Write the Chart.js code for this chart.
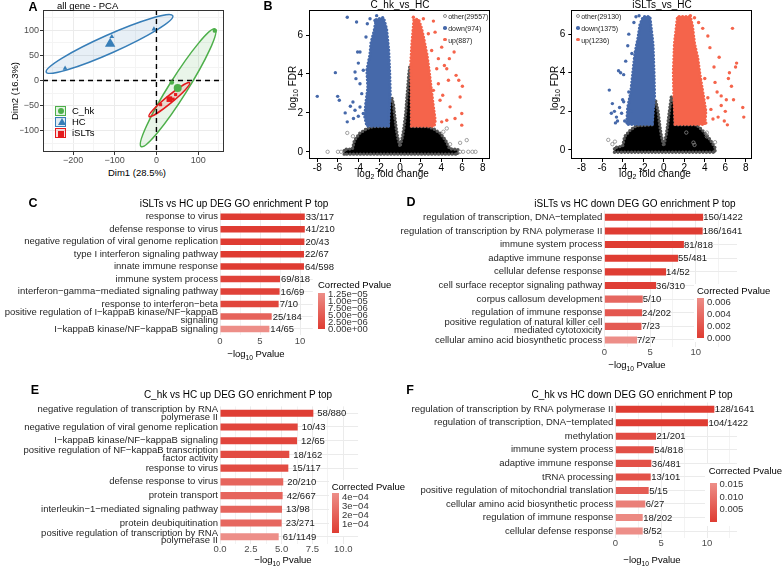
<!DOCTYPE html>
<html>
<head>
<meta charset="utf-8">
<title>PCA, volcano and GO enrichment</title>
<script src="https://cdn.jsdelivr.net/npm/chart.js@4.4.1/dist/chart.umd.min.js"></script>
<style>
  body { margin: 0; width: 784px; height: 566px; position: relative; overflow: hidden; background: #fff;
         font-family: "Liberation Sans", Arial, sans-serif; color: #000; }
  canvas { position: absolute; }
  .tx { position: absolute; white-space: nowrap; line-height: 1; z-index: 5; }
  .tx sub { font-size: 0.7em; vertical-align: -0.35em; line-height: 0; }
  .box { position: absolute; z-index: 4; }
</style>
</head>
<body>
<script>
var FONT = '"Liberation Sans", Arial, sans-serif';

// ---------- A: all gene PCA ----------
var pcaGroups = ['C_hk', 'HC', 'iSLTs'];
var pcaColors = ['#4DAF4A', '#377EB8', '#E41A1C'];
var pcaStyles = ['circle', 'triangle', 'rect'];
var chkDim1 = [37, 140], chkDim2 = [-4, 99];
var hcDim1 = [-219, -107, -6], hcDim2 = [24, 87, 102];
var islDim1 = [10, 40, 46], islDim2 = [-48, -37, -28];
var meanDim1 = [51, -111, 31], meanDim2 = [-15, 73, -37];
// confidence ellipses: centre, half major axis, half minor axis (data units)
var ellCx = [52, -112.5, 31], ellCy = [-14.5, 72.5, -38];
var ellAx = [88.7, 151.7, 48.8], ellAy = [116.7, 56, 33.4];
var ellBx = [18.6, 9, 5.5], ellBy = [-9.5, -16.4, -5.4];
var pcaXTicks = [-250, -200, -150, -100, -50, 0, 50, 100, 150];
var pcaXLabels = ['', '−200', '', '−100', '', '0', '', '100', ''];
var pcaYTicks = [-125, -100, -75, -50, -25, 0, 25, 50, 75, 100, 125];
var pcaYLabels = ['', '−100', '', '−50', '', '0', '', '50', '', '100', ''];

// ---------- B: volcano plots ----------
var volXTicks = [-8, -6, -4, -2, 0, 2, 4, 6, 8];
var volXLabels = ['-8', '-6', '-4', '-2', '0', '2', '4', '6', '8'];
var volYTicks = [0, 2, 4, 6];
var volYLabels = ['0', '2', '4', '6'];
var downColor = '#4669AA', upColor = '#F5644B', otherColor = '#000';

// C_hk vs HC: dense clouds as outlines, sparse points one by one
var chkOtherPolyX = [-5.4, -5.4, -4.6, -4.4, -3.9, -3.2, -2.6, -1.15, -1.1, -0.8, -0.62, -0.55, -0.39, -0.25, 0, 0.25, 0.39, 0.55, 0.7, 0.85, 0.95, 1.1, 1.1, 2.6, 3.2, 3.9, 4.4, 4.8, 5.6, 5.6];
var chkOtherPolyY = [-0.12, 0.12, 0.15, 0.6, 0.95, 1.2, 1.3, 1.3, 2.5, 2.8, 2.4, 2.0, 1.29, 0.8, 0.26, 0.8, 1.29, 2.0, 3.0, 4.0, 4.4, 3.6, 1.3, 1.3, 1.2, 0.95, 0.6, 0.15, 0.12, -0.12];
var chkDownPolyX = [-1.12, -3.2, -3.4, -3.3, -3.1, -3.2, -2.9, -2.8, -2.5, -2.3, -1.6, -1.3, -1.1, -1.0, -0.95];
var chkDownPolyY = [1.33, 1.33, 1.8, 2.5, 3.3, 4.2, 5.0, 5.6, 6.2, 6.8, 6.9, 6.3, 5.2, 4.0, 2.9];
var chkUpPolyX = [1.12, 3.3, 3.4, 3.2, 3.0, 2.8, 2.6, 2.3, 2.1, 1.8, 1.35, 1.15, 1.05, 1.1];
var chkUpPolyY = [1.33, 1.33, 1.6, 2.4, 3.3, 4.2, 5.0, 5.8, 6.3, 6.8, 6.8, 5.5, 4.6, 2.0];
var chkOtherX = [-7.0, -6.0, -5.7, -5.1, -4.55, 5.81, 6.45, 4.84, 5.8, 6.1, 6.6, 7.0, 7.3, 4.19, 4.52];
var chkOtherY = [0, 0, 0, 0.97, 0.8, 0.46, 0.6, 0.39, 0, 0, 0, 0, 0, 1.03, 1.2];
var chkDownX = [-8.0, -6.25, -6.03, -5.87, -5.1, -4.2, -5.3, -4.8, -4.55, -5.1, -4.5, -4.35, -4.26, -4.1, -3.87, -4.03, -3.87, -3.55, -3.7, -3.29, -3.16, -2.9, -2.42, -2.26, -4.35, -4.03, -3.55, -3.87];
var chkDownY = [2.85, 4.07, 2.85, 2.65, 6.92, 6.67, 2.0, 2.34, 2.56, 1.54, 1.71, 4.1, 3.76, 5.13, 5.13, 4.56, 3.5, 4.19, 2.99, 5.9, 6.58, 6.84, 6.75, 7.0, 2.14, 1.83, 1.97, 2.3];
var chkUpX = [1.29, 2.26, 3.23, 2.74, 3.39, 4.03, 5.23, 4.77, 4.29, 4.52, 5.68, 5.42, 4.68, 6.03, 5.81, 5.97, 5.97, 5.32, 4.13, 3.87, 4.84, 4.52, 3.71, 3.55, 3.06, 3.71, 3.23, 4.03, 3.23];
var chkUpY = [6.92, 6.84, 6.72, 6.07, 6.15, 5.38, 5.13, 4.79, 4.44, 4.27, 3.68, 3.93, 3.68, 3.37, 2.82, 1.97, 1.37, 1.71, 2.91, 2.65, 2.31, 1.62, 3.5, 4.27, 5.21, 4.79, 3.16, 1.54, 1.97];

// iSLTs vs HC
var islOtherPolyX = [-4.8, -4.8, -4.0, -3.8, -3.3, -2.7, -1.15, -1.1, -0.8, -0.55, -0.39, -0.25, 0, 0.25, 0.39, 0.55, 0.75, 1.05, 1.1, 3.2, 3.8, 4.3, 4.8, 5.0, 5.0];
var islOtherPolyY = [-0.12, 0.12, 0.2, 0.7, 1.0, 1.25, 1.3, 2.3, 2.6, 2.0, 1.29, 0.8, 0.2, 0.8, 1.29, 2.0, 2.8, 2.4, 1.3, 1.3, 1.0, 0.7, 0.3, 0.12, -0.12];
var islDownPolyX = [-1.12, -3.6, -3.5, -3.2, -3.0, -2.8, -2.5, -2.3, -2.0, -1.35, -1.05, -0.95, -0.9];
var islDownPolyY = [1.33, 1.33, 2.2, 3.0, 4.0, 5.0, 5.8, 6.5, 6.9, 6.9, 5.5, 4.0, 2.8];
var islUpPolyX = [1.12, 4.0, 4.1, 3.8, 3.5, 3.3, 3.0, 2.8, 2.6, 1.35, 1.05, 0.95, 1.0];
var islUpPolyY = [1.33, 1.33, 2.0, 3.0, 4.0, 4.8, 5.5, 6.4, 6.9, 6.9, 5.5, 4.0, 2.7];
var islOtherX = [-5.4, -4.75, 4.2, 4.2, 2.9, 3.0, 2.2, -5.0, 5.0];
var islOtherY = [0.52, 0.43, 0.9, 0.7, 0.38, 0.26, 0.9, 0.3, 0.4];
var islDownX = [-5.3, -5.0, -4.8, -4.6, -4.3, -4.5, -4.1, -4.0, -4.4, -4.2, -3.9, -3.5, -3.4, -3.7, -2.9, -2.7, -2.4, -3.1, -3.4, -3.9, -3.2, -3.8, -4.7, -5.1];
var islDownY = [3.1, 2.4, 2.0, 1.7, 2.2, 1.5, 1.9, 2.6, 4.1, 4.0, 3.9, 5.4, 6.0, 4.6, 6.6, 6.9, 6.95, 5.0, 3.0, 2.5, 2.0, 1.5, 1.4, 1.9];
var islUpX = [7.7, 7.8, 7.1, 6.6, 6.4, 6.3, 6.0, 6.1, 5.6, 5.9, 5.6, 5.2, 5.0, 4.9, 5.4, 4.5, 4.3, 3.8, 3.4, 3.0, 2.6, 4.6, 4.8, 4.3, 4.0, 4.1, 5.3, 6.8, 6.2, 7.0, 6.7];
var islUpY = [2.2, 1.7, 4.5, 3.3, 4.0, 3.7, 2.0, 2.6, 2.8, 1.5, 2.3, 3.0, 3.5, 4.3, 4.8, 5.3, 5.9, 6.3, 6.6, 6.85, 6.95, 2.1, 1.6, 2.7, 3.7, 1.4, 1.7, 2.6, 1.3, 4.3, 6.3];

// ---------- C-F: GO enrichment ----------
var lowFill = [223, 60, 50], highFill = [237, 142, 136];

var cTerms = ['response to virus', 'defense response to virus', 'negative regulation of viral genome replication',
  'type I interferon signaling pathway', 'innate immune response', 'immune system process',
  'interferon−gamma−mediated signaling pathway', 'response to interferon−beta',
  ['positive regulation of I−kappaB kinase/NF−kappaB', 'signaling'], 'I−kappaB kinase/NF−kappaB signaling'];
var cLogP = [10.6, 10.6, 10.55, 10.5, 10.5, 7.5, 7.45, 7.33, 6.46, 6.17];
var cCounts = ['33/117', '41/210', '20/43', '22/67', '64/598', '69/818', '16/69', '7/10', '25/184', '14/65'];
var cPadj = [1e-8, 1e-8, 1e-8, 1e-8, 1e-8, 1e-6, 1e-6, 1.5e-6, 6e-6, 1.27e-5];
var cLim = [0, 1.27e-5];
var cBarTicks = [1.25e-5, 1e-5, 7.5e-6, 5e-6, 2.5e-6, 0];
var cBarLabels = ['1.25e−05', '1.00e−05', '7.50e−06', '5.00e−06', '2.50e−06', '0.00e+00'];

var dTerms = ['regulation of transcription, DNA−templated', 'regulation of transcription by RNA polymerase II',
  'immune system process', 'adaptive immune response', 'cellular defense response',
  'cell surface receptor signaling pathway', 'corpus callosum development', 'regulation of immune response',
  ['positive regulation of natural killer cell', 'mediated cytotoxicity'], 'cellular amino acid biosynthetic process'];
var dLogP = [10.8, 10.75, 8.7, 8.06, 6.75, 5.66, 4.2, 4.13, 4.06, 3.58];
var dCounts = ['150/1422', '186/1641', '81/818', '55/481', '14/52', '36/310', '5/10', '24/202', '7/23', '7/27'];
var dPadj = [1e-7, 1e-7, 2e-6, 5e-6, 6e-5, 2e-4, 0.0035, 0.0022, 0.0025, 0.0066];
var dLim = [0, 0.0066];
var dBarTicks = [0.006, 0.004, 0.002, 0];
var dBarLabels = ['0.006', '0.004', '0.002', '0.000'];

var eTerms = [['negative regulation of transcription by RNA', 'polymerase II'], 'negative regulation of viral genome replication',
  'I−kappaB kinase/NF−kappaB signaling', ['positive regulation of NF−kappaB transcription', 'factor activity'],
  'response to virus', 'defense response to virus', 'protein transport', 'interleukin−1−mediated signaling pathway',
  'protein deubiquitination', ['positive regulation of transcription by RNA', 'polymerase II']];
var eLogP = [7.57, 6.3, 6.25, 5.62, 5.54, 5.13, 5.08, 5.03, 5.0, 4.76];
var eCounts = ['58/880', '10/43', '12/65', '18/162', '15/117', '20/210', '42/667', '13/98', '23/271', '61/1149'];
var ePadj = [1e-5, 5e-5, 5e-5, 8e-5, 8e-5, 2.2e-4, 2.2e-4, 2.2e-4, 2.3e-4, 4.43e-4];
var eLim = [0, 4.43e-4];
var eBarTicks = [4e-4, 3e-4, 2e-4, 1e-4];
var eBarLabels = ['4e−04', '3e−04', '2e−04', '1e−04'];

var fTerms = ['regulation of transcription by RNA polymerase II', 'regulation of transcription, DNA−templated',
  'methylation', 'immune system process', 'adaptive immune response', 'tRNA processing',
  'positive regulation of mitochondrial translation', 'cellular amino acid biosynthetic process',
  'regulation of immune response', 'cellular defense response'];
var fLogP = [10.8, 10.1, 4.44, 4.18, 3.93, 3.86, 3.64, 3.27, 2.99, 2.99];
var fCounts = ['128/1641', '104/1422', '21/201', '54/818', '36/481', '13/101', '5/15', '6/27', '18/202', '8/52'];
var fPadj = [1e-7, 1e-7, 0.003, 0.0035, 0.004, 0.004, 0.006, 0.0125, 0.0143, 0.0153];
var fLim = [0, 0.0153];
var fBarTicks = [0.015, 0.010, 0.005];
var fBarLabels = ['0.015', '0.010', '0.005'];

var goTicks5 = [0, 2.5, 5, 7.5, 10, 12.5];
var goLabels5 = ['0', '', '5', '', '10', ''];
var goTicksE = [0, 1.25, 2.5, 3.75, 5, 6.25, 7.5, 8.75, 10];
var goLabelsE = ['0.0', '', '2.5', '', '5.0', '', '7.5', '', '10.0'];

// ---------- helpers ----------
function pts(xs, ys) { return xs.map(function (x, i) { return { x: x, y: ys[i] }; }); }

function hexA(hex, a) {
  var n = parseInt(hex.slice(1), 16);
  return 'rgba(' + (n >> 16) + ',' + ((n >> 8) & 255) + ',' + (n & 255) + ',' + a + ')';
}

function padjFill(p, lim) {
  var t = Math.min(1, Math.max(0, (p - lim[0]) / (lim[1] - lim[0])));
  return 'rgb(' + lowFill.map(function (c, k) { return Math.round(c + (highFill[k] - c) * t); }).join(',') + ')';
}

function mk(l, t, w, h) {
  var cv = document.createElement('canvas');
  cv.width = w; cv.height = h;
  cv.style.left = l + 'px'; cv.style.top = t + 'px';
  cv.style.width = w + 'px'; cv.style.height = h + 'px';
  document.body.appendChild(cv);
  return cv;
}

function put(html, x, y, size, anchor, extra) {
  var d = document.createElement('div');
  d.className = 'tx';
  d.innerHTML = html;
  var tx = anchor === 'c' ? '-50%' : anchor === 'r' ? '-100%' : '0';
  d.style.left = x + 'px';
  d.style.top = y + 'px';
  d.style.fontSize = size + 'px';
  d.style.transform = 'translate(' + tx + ',-50%)' + (extra && extra.rot ? ' rotate(-90deg)' : '');
  if (extra && extra.bold) d.style.fontWeight = 'bold';
  if (extra && extra.color) d.style.color = extra.color;
  document.body.appendChild(d);
  return d;
}

function rect(l, t, w, h, css) {
  var d = document.createElement('div');
  d.className = 'box';
  d.style.cssText = 'left:' + l + 'px;top:' + t + 'px;width:' + w + 'px;height:' + h + 'px;' + (css || '');
  document.body.appendChild(d);
  return d;
}

function frame(color, w) {
  return {
    id: 'frame',
    afterDraw: function (chart) {
      var a = chart.chartArea, ctx = chart.ctx;
      ctx.save();
      ctx.strokeStyle = color; ctx.lineWidth = w;
      ctx.strokeRect(Math.round(a.left) + 0.5, Math.round(a.top) + 0.5,
        Math.round(a.right - a.left) - 1, Math.round(a.bottom - a.top) - 1);
      ctx.restore();
    }
  };
}

// dense point clouds: filled outline with a dotted rim so the edge reads as points
function polyLayer(polys) {
  return {
    id: 'polys',
    beforeDatasetsDraw: function (chart) {
      var ctx = chart.ctx, sx = chart.scales.x, sy = chart.scales.y, a = chart.chartArea;
      ctx.save();
      ctx.beginPath(); ctx.rect(a.left, a.top, a.right - a.left, a.bottom - a.top); ctx.clip();
      polys.forEach(function (p) {
        ctx.beginPath();
        p.xs.forEach(function (x, i) {
          var px = sx.getPixelForValue(x), py = sy.getPixelForValue(p.ys[i]);
          if (i) ctx.lineTo(px, py); else ctx.moveTo(px, py);
        });
        ctx.closePath();
        ctx.fillStyle = p.color; ctx.fill();
        ctx.setLineDash([]); ctx.lineJoin = 'round'; ctx.lineWidth = 1; ctx.strokeStyle = p.color; ctx.stroke();
        ctx.setLineDash([0, 3.4]); ctx.lineCap = 'round'; ctx.lineWidth = 3.4; ctx.strokeStyle = p.rim; ctx.stroke();
      });
      ctx.restore();
    }
  };
}

var ellipseLayer = {
  id: 'ellipses',
  beforeDatasetsDraw: function (chart) {
    var ctx = chart.ctx, sx = chart.scales.x, sy = chart.scales.y, a = chart.chartArea;
    ctx.save();
    ctx.beginPath(); ctx.rect(a.left, a.top, a.right - a.left, a.bottom - a.top); ctx.clip();
    ellCx.forEach(function (cx, i) {
      var cy = ellCy[i];
      var px = sx.getPixelForValue(cx), py = sy.getPixelForValue(cy);
      var ax = sx.getPixelForValue(cx + ellAx[i]) - px, ay = sy.getPixelForValue(cy + ellAy[i]) - py;
      var bx = sx.getPixelForValue(cx + ellBx[i]) - px, by = sy.getPixelForValue(cy + ellBy[i]) - py;
      ctx.save();
      ctx.transform(ax, ay, bx, by, px, py);
      ctx.beginPath(); ctx.arc(0, 0, 1, 0, Math.PI * 2);
      ctx.restore();
      ctx.fillStyle = hexA(pcaColors[i], 0.12); ctx.fill();
      ctx.strokeStyle = pcaColors[i]; ctx.lineWidth = 1.5; ctx.stroke();
    });
    // dashed lines through the origin
    ctx.setLineDash([5, 4]); ctx.lineWidth = 1.4; ctx.strokeStyle = '#000';
    var x0 = sx.getPixelForValue(0), y0 = sy.getPixelForValue(0);
    ctx.beginPath(); ctx.moveTo(x0, a.top); ctx.lineTo(x0, a.bottom); ctx.stroke();
    ctx.beginPath(); ctx.moveTo(a.left, y0); ctx.lineTo(a.right, y0); ctx.stroke();
    ctx.restore();
  }
};

function countLabels(counts, off) {
  return {
    id: 'counts',
    afterDatasetsDraw: function (chart) {
      var ctx = chart.ctx;
      ctx.save();
      ctx.font = '9.5px ' + FONT; ctx.fillStyle = '#1A1A1A';
      ctx.textBaseline = 'middle'; ctx.textAlign = 'left';
      chart.getDatasetMeta(0).data.forEach(function (bar, i) { ctx.fillText(counts[i], bar.x + off, bar.y + 0.5); });
      ctx.restore();
    }
  };
}

function minorGrid(ticks, labels, major, minor) {
  return function (c) {
    if (!c.tick) return major;
    return labels[ticks.indexOf(c.tick.value)] === '' ? minor : major;
  };
}

// ---------- A ----------
new Chart(mk(20, 0, 212, 166), {
  type: 'scatter',
  data: {
    datasets: [
      { data: pts(chkDim1, chkDim2), pointStyle: 'circle', pointRadius: 2.2, borderWidth: 0, backgroundColor: pcaColors[0] },
      { data: pts(hcDim1, hcDim2), pointStyle: 'triangle', pointRadius: 2.8, borderWidth: 0, backgroundColor: pcaColors[1] },
      { data: pts(islDim1, islDim2), pointStyle: 'rect', pointRadius: 2.2, borderWidth: 0, backgroundColor: pcaColors[2] },
      { data: pts(meanDim1, meanDim2), pointStyle: pcaStyles, pointRadius: [4, 6, 4], borderWidth: 0, backgroundColor: pcaColors }
    ]
  },
  options: {
    responsive: false, animation: false, events: [],
    layout: { padding: { top: 10, right: 8 } },
    plugins: { legend: { display: false }, tooltip: { enabled: false } },
    scales: {
      x: {
        type: 'linear', min: -272, max: 162,
        afterBuildTicks: function (s) { s.ticks = pcaXTicks.map(function (v) { return { value: v }; }); },
        afterFit: function (s) { s.height = 14; },
        grid: { color: minorGrid(pcaXTicks, pcaXLabels, '#EBEBEB', '#F4F4F4'), tickLength: 3,
                tickColor: minorGrid(pcaXTicks, pcaXLabels, '#333', 'rgba(0,0,0,0)') },
        border: { display: false },
        ticks: { padding: 0, color: '#4D4D4D', font: { family: FONT, size: 9 }, maxRotation: 0, autoSkip: false,
                 callback: function (v) { return pcaXLabels[pcaXTicks.indexOf(v)]; } }
      },
      y: {
        type: 'linear', min: -142, max: 140,
        afterBuildTicks: function (s) { s.ticks = pcaYTicks.map(function (v) { return { value: v }; }); },
        afterFit: function (s) { s.width = 23; },
        grid: { color: minorGrid(pcaYTicks, pcaYLabels, '#EBEBEB', '#F4F4F4'), tickLength: 3,
                tickColor: minorGrid(pcaYTicks, pcaYLabels, '#333', 'rgba(0,0,0,0)') },
        border: { display: false },
        ticks: { padding: 1, color: '#4D4D4D', font: { family: FONT, size: 9 }, autoSkip: false,
                 callback: function (v) { return pcaYLabels[pcaYTicks.indexOf(v)]; } }
      }
    }
  },
  plugins: [ellipseLayer, frame('#333', 1)]
});

// ---------- B ----------
function volcano(cv, v) {
  return new Chart(cv, {
    type: 'scatter',
    data: {
      datasets: [
        { data: pts(v.otherX, v.otherY), pointRadius: 1.7, borderWidth: 0.8, borderColor: '#8A8A8A', backgroundColor: 'rgba(0,0,0,0)' },
        { data: pts(v.downX, v.downY), pointRadius: 1.7, borderWidth: 0, backgroundColor: downColor },
        { data: pts(v.upX, v.upY), pointRadius: 1.7, borderWidth: 0, backgroundColor: upColor }
      ]
    },
    options: {
      responsive: false, animation: false, events: [],
      layout: { padding: { top: 10, right: 32 } },
      plugins: { legend: { display: false }, tooltip: { enabled: false } },
      scales: {
        x: {
          type: 'linear', min: v.xMin, max: v.xMax,
          afterBuildTicks: function (s) { s.ticks = volXTicks.map(function (t) { return { value: t }; }); },
          afterFit: function (s) { s.height = 13; },
          grid: { drawOnChartArea: false, tickLength: 3, tickColor: '#000' },
          border: { display: false },
          ticks: { padding: 0, color: '#000', font: { family: FONT, size: 10 }, maxRotation: 0, autoSkip: false,
                   callback: function (t) { return volXLabels[volXTicks.indexOf(t)]; } }
        },
        y: {
          type: 'linear', min: v.yMin, max: v.yMax,
          afterBuildTicks: function (s) { s.ticks = volYTicks.map(function (t) { return { value: t }; }); },
          afterFit: function (s) { s.width = v.yw; },
          grid: { drawOnChartArea: false, tickLength: 3, tickColor: '#000' },
          border: { display: false },
          ticks: { padding: 3, color: '#000', font: { family: FONT, size: 10 }, autoSkip: false,
                   callback: function (t) { return volYLabels[volYTicks.indexOf(t)]; } }
        }
      }
    },
    plugins: [polyLayer([
      { xs: v.otherPolyX, ys: v.otherPolyY, color: otherColor, rim: '#555' },
      { xs: v.downPolyX, ys: v.downPolyY, color: downColor, rim: downColor },
      { xs: v.upPolyX, ys: v.upPolyY, color: upColor, rim: upColor }
    ]), frame('#000', 1)]
  });
}

volcano(mk(282, 0, 240, 172), {
  xMin: -8.8, xMax: 8.7, yMin: -0.37, yMax: 7.29, yw: 27,
  otherPolyX: chkOtherPolyX, otherPolyY: chkOtherPolyY, downPolyX: chkDownPolyX, downPolyY: chkDownPolyY,
  upPolyX: chkUpPolyX, upPolyY: chkUpPolyY, otherX: chkOtherX, otherY: chkOtherY,
  downX: chkDownX, downY: chkDownY, upX: chkUpX, upY: chkUpY
});
volcano(mk(544, 0, 240, 172), {
  xMin: -9.0, xMax: 8.6, yMin: -0.47, yMax: 7.25, yw: 27.3,
  otherPolyX: islOtherPolyX, otherPolyY: islOtherPolyY, downPolyX: islDownPolyX, downPolyY: islDownPolyY,
  upPolyX: islUpPolyX, upPolyY: islUpPolyY, otherX: islOtherX, otherY: islOtherY,
  downX: islDownX, downY: islDownY, upX: islUpX, upY: islUpY
});

// ---------- C-F ----------
function goBars(cv, g) {
  return new Chart(cv, {
    type: 'bar',
    data: {
      labels: g.terms,
      datasets: [{ data: g.logp, backgroundColor: g.padj.map(function (p) { return padjFill(p, g.lim); }),
                   barPercentage: 0.52, categoryPercentage: 1 }]
    },
    options: {
      indexAxis: 'y', responsive: false, animation: false, events: [],
      layout: { padding: { top: g.padTop, right: g.padRight } },
      plugins: { legend: { display: false }, tooltip: { enabled: false } },
      scales: {
        x: {
          type: 'linear', min: 0, max: g.max,
          afterBuildTicks: function (s) { s.ticks = g.ticks.map(function (t) { return { value: t }; }); },
          afterFit: function (s) { s.height = g.xh; },
          grid: { drawTicks: false, color: minorGrid(g.ticks, g.tickLabels, '#EBEBEB', '#F3F3F3') },
          border: { display: false },
          ticks: { padding: 0, color: '#4D4D4D', font: { family: FONT, size: 9.5 }, maxRotation: 0, autoSkip: false,
                   callback: function (t) { return g.tickLabels[g.ticks.indexOf(t)]; } }
        },
        y: {
          afterFit: function (s) { s.width = g.yw; },
          grid: { drawTicks: false, offset: false, color: '#EBEBEB' },
          border: { display: false },
          ticks: { padding: 2, color: '#262626', autoSkip: false, font: { family: FONT, size: 9.5, lineHeight: 0.78 } }
        }
      }
    },
    plugins: [countLabels(g.counts, g.labOff)]
  });
}

goBars(mk(0, 200, 350, 150), {
  terms: cTerms, logp: cLogP, counts: cCounts, padj: cPadj, lim: cLim,
  ticks: [0, 2.5, 5, 7.5, 10], tickLabels: ['0', '', '5', '', '10'], max: 11.6,
  yw: 220, xh: 14.8, padTop: 10.5, padRight: 37.2, labOff: 1
});
goBars(mk(384, 200, 400, 162), {
  terms: dTerms, logp: dLogP, counts: dCounts, padj: dPadj, lim: dLim,
  ticks: goTicks5, tickLabels: goLabels5, max: 14.5,
  yw: 220.3, xh: 15.2, padTop: 10.5, padRight: 47, labOff: 0
});
goBars(mk(0, 396, 362, 160), {
  terms: eTerms, logp: eLogP, counts: eCounts, padj: ePadj, lim: eLim,
  ticks: goTicksE, tickLabels: goLabelsE, max: 11.2,
  yw: 220, xh: 12.4, padTop: 10.4, padRight: 3.9, labOff: 4
});
goBars(mk(384, 390, 400, 166), {
  terms: fTerms, logp: fLogP, counts: fCounts, padj: fPadj, lim: fLim,
  ticks: goTicks5, tickLabels: goLabels5, max: 13.27,
  yw: 231.3, xh: 18.2, padTop: 12.5, padRight: 47, labOff: 0.5
});

// ---------- text, legends, colour bars ----------
var letters = ['A', 'B', 'C', 'D', 'E', 'F'];
var letterX = [33, 268, 33, 411, 35, 410], letterY = [7, 6, 203, 202, 390, 390];
letters.forEach(function (s, i) { put(s, letterX[i], letterY[i], 12.5, 'c', { bold: true }); });

put('all gene - PCA', 57, 6, 9.5, 'l');
put('Dim1 (28.5%)', 137, 173, 9.5, 'c');
put('Dim2 (16.3%)', 15, 91, 9.5, 'c', { rot: true });
var pcaLegY = [110.8, 121.7, 133.3];
pcaGroups.forEach(function (name, i) {
  var y = pcaLegY[i];
  rect(55, y - 5, 9, 8, 'border:1.5px solid ' + pcaColors[i] + ';background:' + hexA(pcaColors[i], 0.15));
  var sym;
  if (pcaStyles[i] === 'triangle') sym = rect(57.5, y - 3.5, 0, 0, 'border-left:4px solid transparent;border-right:4px solid transparent;border-bottom:7px solid ' + pcaColors[i]);
  else sym = rect(58, y - 2.5, 6, 6, 'background:' + pcaColors[i] + (pcaStyles[i] === 'circle' ? ';border-radius:50%' : ''));
  sym.style.zIndex = 6;
  put(name, 72, y, 9.5, 'l');
});

put('C_hk_vs_HC', 400, 5, 10, 'c');
put('iSLTs_vs_HC', 662, 5, 10, 'c');
put('log<sub>2</sub> fold change', 393, 174, 10, 'c');
put('log<sub>2</sub> fold change', 655, 174, 10, 'c');
put('log<sub>10</sub> FDR', 293, 88, 10, 'c', { rot: true });
put('log<sub>10</sub> FDR', 555, 88, 10, 'c', { rot: true });

var volLegNames = [['other(29557)', 'down(974)', 'up(887)'], ['other(29130)', 'down(1375)', 'up(1236)']];
var volLegX = [445, 578], volLegY = [15.7, 27.8, 39.5];
var volLegColors = ['#8A8A8A', downColor, upColor];
volLegNames.forEach(function (names, k) {
  names.forEach(function (n, i) {
    rect(volLegX[k] - 1.8, volLegY[i] - 1.8, i ? 3.6 : 2.2, i ? 3.6 : 2.2,
      'border-radius:50%;' + (i ? 'background:' + volLegColors[i] : 'border:0.8px solid ' + volLegColors[i]));
    put(n, volLegX[k] + 3.2, volLegY[i], 7, 'l', { color: '#222' });
  });
});

var goTitles = ['iSLTs vs HC up DEG GO enrichment P top', 'iSLTs vs HC down DEG GO enrichment P top',
  'C_hk vs HC up DEG GO enrichment P top', 'C_hk vs HC down DEG GO enrichment P top'];
var goTitleX = [234, 635, 238, 632], goTitleY = [204, 204, 395, 395];
var goAxisX = [256, 637, 283, 652], goAxisY = [354, 365, 560, 560];
goTitles.forEach(function (t, i) {
  put(t, goTitleX[i], goTitleY[i], 10, 'c');
  put('−log<sub>10</sub> Pvalue', goAxisX[i], goAxisY[i], 9.5, 'c');
});

function colourBar(lx, ly, bx, top, bottom, lim, ticks, labels, bg) {
  if (bg) rect(bg[0], bg[1], bg[2], bg[3], 'background:#fff');
  put('Corrected Pvalue', lx, ly, 9.5, 'l');
  rect(bx, top, 7, bottom - top, 'background:linear-gradient(to bottom,rgb(' + highFill.join(',') + '),rgb(' + lowFill.join(',') + '))');
  ticks.forEach(function (v, i) {
    var y = bottom - (v - lim[0]) / (lim[1] - lim[0]) * (bottom - top);
    put(labels[i], bx + 10, y, 9.5, 'l', { color: '#333' });
  });
}
colourBar(318, 285, 318, 293.3, 329.3, cLim, cBarTicks, cBarLabels, null);
colourBar(697, 291, 697, 298, 338, dLim, dBarTicks, dBarLabels, [694, 284, 70, 58]);
colourBar(331.7, 486.7, 332, 493, 532.7, eLim, eBarTicks, eBarLabels, [329, 480, 60, 56]);
colourBar(708.7, 470.7, 709.5, 483.3, 521.7, fLim, fBarTicks, fBarLabels, [705, 464, 62, 62]);
</script>
</body>
</html>
